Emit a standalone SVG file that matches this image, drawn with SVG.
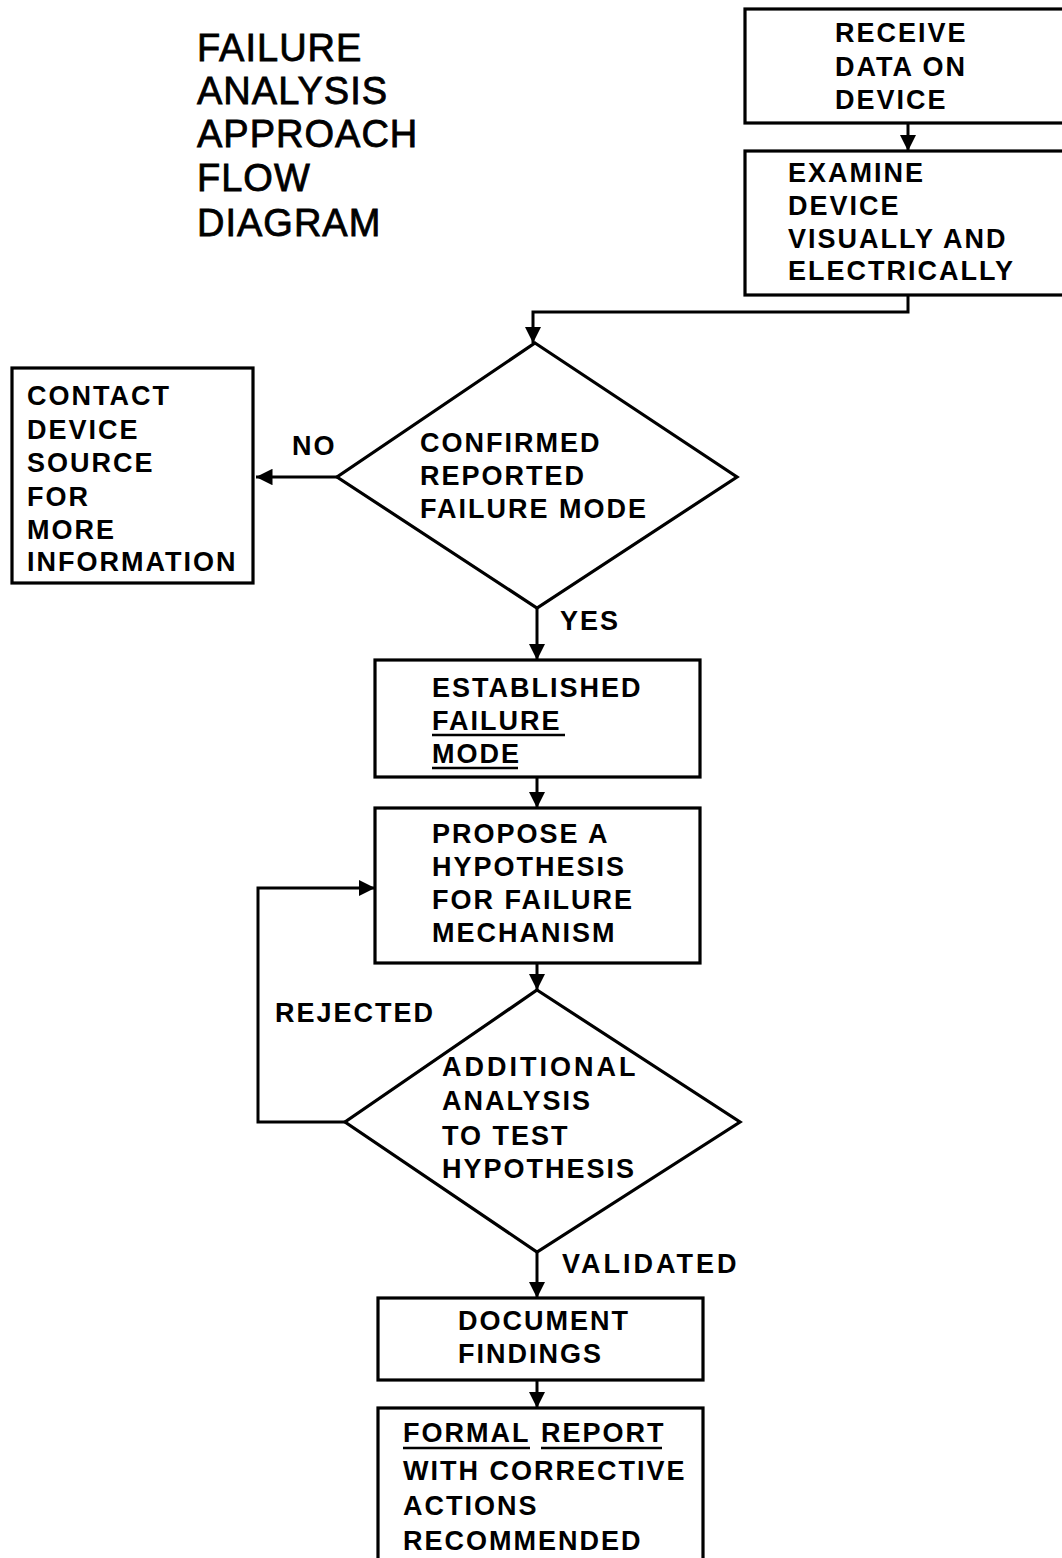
<svg xmlns="http://www.w3.org/2000/svg" width="1062" height="1558" viewBox="0 0 1062 1558">
  <defs>
    <marker id="arrow" viewBox="0 0 10 10" refX="10" refY="5" markerWidth="5.5" markerHeight="5.5" markerUnits="strokeWidth" orient="auto">
      <path d="M0,0 L10,5 L0,10 Z" fill="#000"/>
    </marker>
    <style>
      .box { fill: #fff; stroke: #000; stroke-width: 3.2; }
      .dia { fill: #fff; stroke: #000; stroke-width: 3.2; stroke-linejoin: miter; }
      .lbl { font-family: "Liberation Sans", Arial, sans-serif; font-size: 27px; font-weight: bold; letter-spacing: 2px; fill: #000; }
      .wide { letter-spacing: 3px; }
      .title { font-family: "Liberation Sans", Arial, sans-serif; font-size: 38px; letter-spacing: 1px; fill: #000; stroke: #000; stroke-width: 0.8; }
      .conn { fill: none; stroke: #000; stroke-width: 3; marker-end: url(#arrow); }
      .plain { fill: none; stroke: #000; stroke-width: 3; }
      .ul { stroke: #000; stroke-width: 2.5; }
    </style>
  </defs>
  <rect width="1062" height="1558" fill="#fff"/>

  <!-- title -->
  <g id="title">
    <text class="title" x="197" y="61">FAILURE</text>
    <text class="title" x="197" y="104">ANALYSIS</text>
    <text class="title" x="197" y="147">APPROACH</text>
    <text class="title" x="197" y="191">FLOW</text>
    <text class="title" x="197" y="236">DIAGRAM</text>
  </g>

  <!-- connectors -->
  <g id="connectors">
    <path class="conn" d="M908,123 V151"/>
    <path class="conn" d="M908,295 V312 H533 V343"/>
    <path class="conn" d="M337,477 H256"/>
    <path class="plain" d="M537,608 V625"/>
    <path class="conn" d="M537,625 V660"/>
    <path class="conn" d="M537,777 V808"/>
    <path class="conn" d="M537,963 V990"/>
    <path class="conn" d="M345,1122 H258 V888 H375"/>
    <path class="conn" d="M537,1252 V1298"/>
    <path class="conn" d="M537,1380 V1408"/>
  </g>

  <!-- nodes -->
  <g id="receive">
    <rect class="box" x="745" y="9" width="330" height="114"/>
    <text class="lbl" x="835" y="42">RECEIVE</text>
    <text class="lbl" x="835" y="76">DATA ON</text>
    <text class="lbl" x="835" y="109">DEVICE</text>
  </g>

  <g id="examine">
    <rect class="box" x="745" y="151" width="330" height="144"/>
    <text class="lbl" x="788" y="182">EXAMINE</text>
    <text class="lbl" x="788" y="215">DEVICE</text>
    <text class="lbl" x="788" y="248">VISUALLY AND</text>
    <text class="lbl" x="788" y="280">ELECTRICALLY</text>
  </g>

  <g id="confirmed">
    <polygon class="dia" points="535,343 737,477 537,608 337,477"/>
    <text class="lbl" x="420" y="452">CONFIRMED</text>
    <text class="lbl" x="420" y="485">REPORTED</text>
    <text class="lbl" x="420" y="518">FAILURE MODE</text>
  </g>

  <g id="contact">
    <rect class="box" x="12" y="368" width="241" height="215"/>
    <text class="lbl" x="27" y="405">CONTACT</text>
    <text class="lbl" x="27" y="439">DEVICE</text>
    <text class="lbl" x="27" y="472">SOURCE</text>
    <text class="lbl" x="27" y="506">FOR</text>
    <text class="lbl" x="27" y="539">MORE</text>
    <text class="lbl" x="27" y="571">INFORMATION</text>
  </g>

  <g id="established">
    <rect class="box" x="375" y="660" width="325" height="117"/>
    <text class="lbl" x="432" y="697">ESTABLISHED</text>
    <text class="lbl" x="432" y="730">FAILURE</text>
    <text class="lbl" x="432" y="763">MODE</text>
    <line class="ul" x1="432" y1="735" x2="565" y2="735"/>
    <line class="ul" x1="432" y1="768" x2="518" y2="768"/>
  </g>

  <g id="propose">
    <rect class="box" x="375" y="808" width="325" height="155"/>
    <text class="lbl" x="432" y="843">PROPOSE A</text>
    <text class="lbl" x="432" y="876">HYPOTHESIS</text>
    <text class="lbl" x="432" y="909">FOR FAILURE</text>
    <text class="lbl" x="432" y="942">MECHANISM</text>
  </g>

  <g id="additional">
    <polygon class="dia" points="537,990 740,1122 537,1252 345,1122"/>
    <text class="lbl wide" x="442" y="1076">ADDITIONAL</text>
    <text class="lbl" x="442" y="1110">ANALYSIS</text>
    <text class="lbl" x="442" y="1145">TO TEST</text>
    <text class="lbl" x="442" y="1178">HYPOTHESIS</text>
  </g>

  <g id="document">
    <rect class="box" x="378" y="1298" width="325" height="82"/>
    <text class="lbl" x="458" y="1330">DOCUMENT</text>
    <text class="lbl" x="458" y="1363">FINDINGS</text>
  </g>

  <g id="report">
    <rect class="box" x="378" y="1408" width="325" height="170"/>
    <text class="lbl" x="403" y="1442">FORMAL</text>
    <text class="lbl" x="541" y="1442">REPORT</text>
    <line class="ul" x1="403" y1="1448" x2="530" y2="1448"/>
    <line class="ul" x1="541" y1="1448" x2="662" y2="1448"/>
    <text class="lbl" x="403" y="1480">WITH CORRECTIVE</text>
    <text class="lbl" x="403" y="1515">ACTIONS</text>
    <text class="lbl" x="403" y="1550">RECOMMENDED</text>
  </g>

  <!-- branch labels -->
  <g id="labels">
    <text class="lbl" x="292" y="455">NO</text>
    <text class="lbl" x="560" y="630">YES</text>
    <text class="lbl" x="275" y="1022">REJECTED</text>
    <text class="lbl wide" x="562" y="1273">VALIDATED</text>
  </g>
</svg>
